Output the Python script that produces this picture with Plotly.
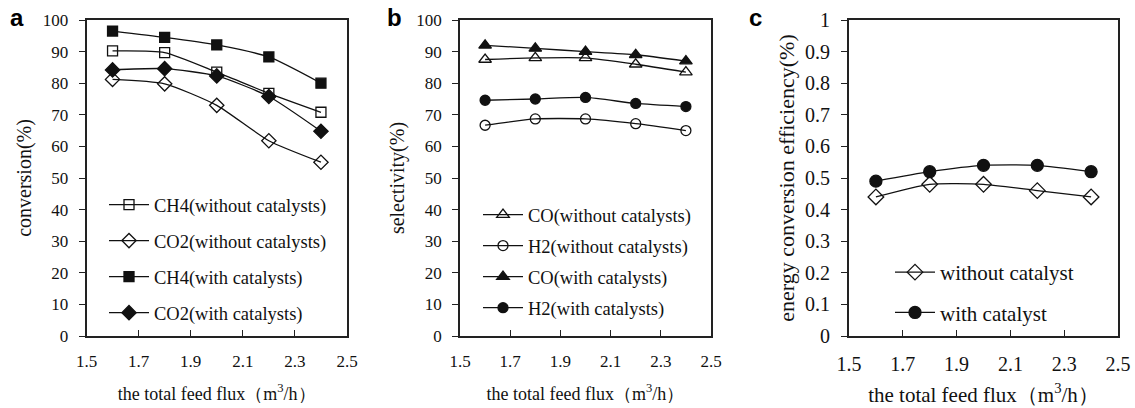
import plotly.graph_objects as go

flux = [1.6, 1.8, 2.0, 2.2, 2.4]

# panel a: conversion (%)
ch4_without = [90.2, 89.7, 83.5, 76.8, 70.8]
co2_without = [81.2, 79.8, 73.0, 61.8, 55.0]
ch4_with = [96.5, 94.5, 92.1, 88.3, 80.0]
co2_with = [84.2, 84.6, 82.3, 75.8, 64.8]

# panel b: selectivity (%)
co_without = [87.5, 88.0, 88.0, 86.0, 83.5]
h2_without = [66.7, 68.7, 68.7, 67.2, 65.0]
co_with = [92.0, 91.0, 90.0, 89.0, 87.0]
h2_with = [74.6, 75.0, 75.5, 73.6, 72.6]

# panel c: energy conversion efficiency
eff_without = [0.44, 0.48, 0.48, 0.46, 0.44]
eff_with = [0.49, 0.52, 0.54, 0.54, 0.52]

xticks = [1.5, 1.7, 1.9, 2.1, 2.3, 2.5]
yticks_c = [0, 0.1, 0.2, 0.3, 0.4, 0.5, 0.6, 0.7, 0.8, 0.9, 1]
yticks_c_text = ["0", "0.1", "0.2", "0.3", "0.4", "0.5", "0.6", "0.7", "0.8", "0.9", "1"]

FONT = "Liberation Serif"
INK = "#222222"
TXT = "#111111"

fig = go.Figure()

def add(x, y, name, symbol, xa, ya, legend, group, size=10):
    fig.add_trace(go.Scatter(
        x=x, y=y, name=name, mode="lines+markers",
        line=dict(color="#111111", width=1.3, shape="spline", smoothing=0.6),
        marker=dict(symbol=symbol, size=size, color="#111111",
                    line=dict(color="#111111", width=1.3)),
        xaxis=xa, yaxis=ya, legend=legend, legendgroup=group,
    ))

add(flux, ch4_without, "CH4(without catalysts)", "square-open", "x", "y", "legend", "a1")
add(flux, co2_without, "CO2(without catalysts)", "diamond-open", "x", "y", "legend", "a2", 11)
add(flux, ch4_with, "CH4(with catalysts)", "square", "x", "y", "legend", "a3")
add(flux, co2_with, "CO2(with catalysts)", "diamond", "x", "y", "legend", "a4", 11)

add(flux, co_without, "CO(without catalysts)", "triangle-up-open", "x2", "y2", "legend2", "b1", 11)
add(flux, h2_without, "H2(without catalysts)", "circle-open", "x2", "y2", "legend2", "b2")
add(flux, co_with, "CO(with catalysts)", "triangle-up", "x2", "y2", "legend2", "b3", 11)
add(flux, h2_with, "H2(with catalysts)", "circle", "x2", "y2", "legend2", "b4")

add(flux, eff_without, "without catalyst", "diamond-open", "x3", "y3", "legend3", "c1", 12)
add(flux, eff_with, "with catalyst", "circle", "x3", "y3", "legend3", "c2", 12)

W, H = 1135, 408
def px(v): return v / W
def py(v): return 1 - v / H

xdom = [(86.5, 347), (460, 711), (849, 1118)]
ydom = [py(336), py(20)]

xtitle = "the total feed flux（m<sup>3</sup>/h）"

fig.update_layout(
    xaxis=dict(domain=[px(xdom[0][0]), px(xdom[0][1])], anchor="y"),
    xaxis2=dict(domain=[px(xdom[1][0]), px(xdom[1][1])], anchor="y2"),
    xaxis3=dict(domain=[px(xdom[2][0]), px(xdom[2][1])], anchor="y3"),
    yaxis=dict(domain=ydom, anchor="x", range=[0, 100], dtick=10, tick0=0),
    yaxis2=dict(domain=ydom, anchor="x2", range=[0, 100], dtick=10, tick0=0),
    yaxis3=dict(domain=ydom, anchor="x3", range=[0, 1], tickmode="array",
                tickvals=yticks_c, ticktext=yticks_c_text),
)

fig.update_xaxes(range=[1.5, 2.5], tickmode="array", tickvals=xticks,
                 ticktext=[str(t) for t in xticks],
                 ticks="inside", ticklen=6, tickcolor=INK, tickwidth=1.3,
                 showline=True, linecolor=INK, linewidth=1.6, mirror=True,
                 showgrid=False, zeroline=False, automargin=False,
                 ticklabelstandoff=9,
                 tickfont=dict(family=FONT, size=17, color=TXT),
                 title=dict(text=xtitle, font=dict(family=FONT, size=18, color=TXT), standoff=17))
fig.update_yaxes(ticks="outside", ticklen=6, tickcolor=INK, tickwidth=1.3,
                 showline=True, linecolor=INK, linewidth=1.6, mirror=True,
                 showgrid=False, zeroline=False, automargin=False,
                 ticklabelstandoff=7,
                 tickfont=dict(family=FONT, size=17, color=TXT))

fig.update_yaxes(selector=dict(anchor="x"),
                 title=dict(text="conversion(%)", standoff=6, font=dict(family=FONT, size=20, color=TXT)))
fig.update_yaxes(selector=dict(anchor="x2"),
                 title=dict(text="selectivity(%)", standoff=6, font=dict(family=FONT, size=20, color=TXT)))
fig.update_yaxes(selector=dict(anchor="x3"), linewidth=2,
                 tickfont=dict(family=FONT, size=20, color=TXT),
                 title=dict(text="energy conversion efficiency(%)", standoff=4,
                            font=dict(family=FONT, size=22, color=TXT)))
fig.update_xaxes(selector=dict(anchor="y3"), linewidth=2,
                 tickfont=dict(family=FONT, size=20, color=TXT),
                 title=dict(text=xtitle, font=dict(family=FONT, size=21, color=TXT), standoff=13))

legend_common = dict(bgcolor="rgba(0,0,0,0)", borderwidth=0,
                     xanchor="left", yanchor="top", itemwidth=40)
fig.update_layout(
    legend=dict(x=px(104), y=py(186), tracegroupgap=9,
                font=dict(family=FONT, size=18.5, color=TXT), **legend_common),
    legend2=dict(x=px(478), y=py(196), tracegroupgap=4,
                 font=dict(family=FONT, size=18.5, color=TXT), **legend_common),
    legend3=dict(x=px(890), y=py(252), tracegroupgap=10,
                 font=dict(family=FONT, size=21, color=TXT), **legend_common),
)

for txt, x in [("a", 17), ("b", 394), ("c", 755)]:
    fig.add_annotation(text="<b>" + txt + "</b>", x=px(x), y=py(18), xref="paper", yref="paper",
                       xanchor="center", yanchor="middle", showarrow=False,
                       font=dict(family="Liberation Sans", size=24, color="#000"))

fig.update_layout(width=W, height=H, margin=dict(l=0, r=0, t=0, b=0, autoexpand=False),
                  font=dict(family=FONT, color=TXT),
                  plot_bgcolor="white", paper_bgcolor="white", showlegend=True)

fig.write_html("out.html")
